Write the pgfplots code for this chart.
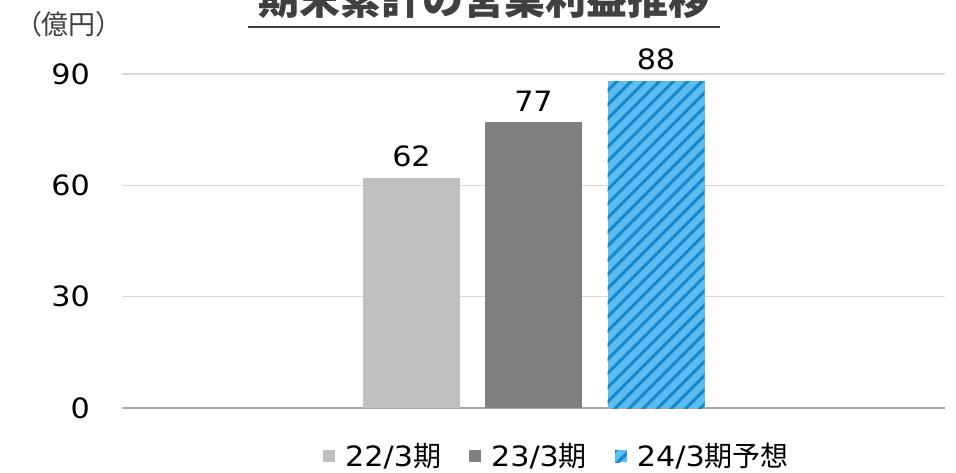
\documentclass[border=0pt]{standalone}
\usepackage{fontspec}
\usepackage{pgfplots}
\pgfplotsset{compat=1.18}
\usetikzlibrary{patterns.meta}
\setmainfont{DejaVu Sans}[FakeStretch=1.08]
\newfontfamily\jp{Noto Sans CJK JP}
\definecolor{cA}{HTML}{BFBFBF}
\definecolor{cB}{HTML}{7F7F7F}
\definecolor{cLight}{HTML}{5CBCF0}
\definecolor{cDark}{HTML}{1588CD}
\definecolor{gridc}{HTML}{D9D9D9}
\definecolor{axisc}{HTML}{A6A6A6}
\definecolor{titlec}{HTML}{404040}
\begin{document}
\begin{tikzpicture}[x=1pt,y=1pt]
\useasboundingbox (0,0) rectangle (956,472);
\begin{axis}[
  at={(122pt,64pt)}, anchor=south west,
  scale only axis, width=823pt, height=334pt,
  xmin=122, xmax=945, ymin=0, ymax=90,
  ytick={0,30,60,90}, xtick=\empty,
  axis lines=left,
  axis line style={-},
  y axis line style={draw=none},
  x axis line style={draw=axisc, line width=2pt},
  ymajorgrids, grid style={draw=gridc, line width=1.5pt},
  major tick length=0pt,
  /pgf/number format/assume math mode=true,
  yticklabel style={font=\fontsize{28}{34}\selectfont, inner sep=0pt, xshift=-32pt, text=black},
  every node near coord/.append style={font=\fontsize{28}{34}\selectfont, inner sep=0pt, yshift=11pt, anchor=south, text=black},
  legend style={at={(rel axis cs:0.5286,-0.1437)}, anchor=center, draw=none, fill=none,
    legend columns=3, font=\fontsize{28}{30}\selectfont, inner sep=0pt,
    /tikz/every odd column/.append style={column sep=8pt},
    /tikz/every even column/.append style={column sep=26pt}},
  legend image code/.code={\fill[#1] (0pt,-6pt) rectangle (12pt,6pt);},
]
\addplot[ybar, bar width=97, fill=cA, draw=none, nodes near coords] coordinates {(411.5,62)};
\addlegendentry{22/3{\jp 期}}
\addplot[ybar, bar width=97, fill=cB, draw=none, nodes near coords] coordinates {(533.5,77)};
\addlegendentry{23/3{\jp 期}}
\addplot[ybar, bar width=97, fill=cLight, draw=none, nodes near coords,
  postaction={pattern={Lines[angle=45,distance=10pt,line width=3pt]}, pattern color=cDark}] coordinates {(656,88)};
\addlegendentry{24/3{\jp 期予想}}
\end{axis}
\node[font=\jp\bfseries\fontsize{41}{41}\selectfont, text=titlec, anchor=base] at (484,457) {期末累計の営業利益推移};
\draw[titlec, line width=2pt] (248,445) -- (720,445);
\node[font=\jp\fontsize{27}{27}\selectfont, anchor=center, inner sep=0pt, text=titlec] at (69,448) {（億円）};
\end{tikzpicture}
\end{document}
